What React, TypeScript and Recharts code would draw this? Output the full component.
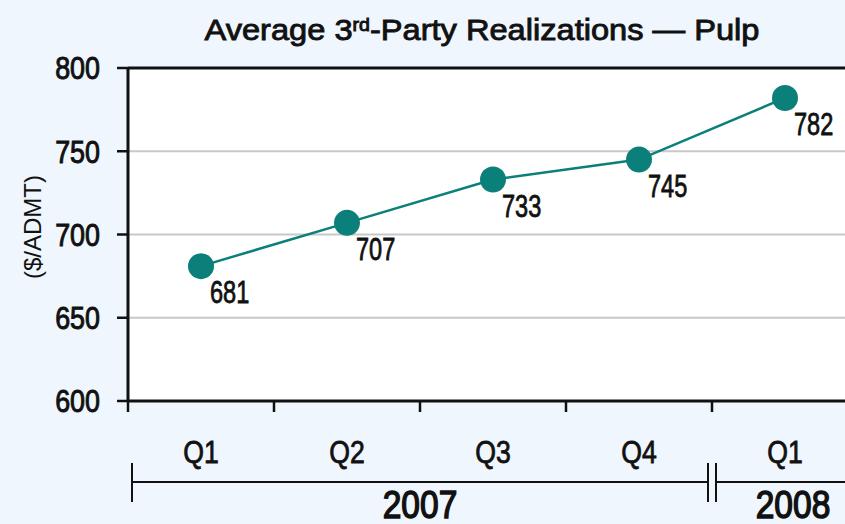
import React from 'react'
import { LineChart, Line, XAxis, YAxis, CartesianGrid, ReferenceLine, LabelList } from 'recharts'

const quarters = ['Q1', 'Q2', 'Q3', 'Q4', 'Q1']
const realizations = [681, 707, 733, 745, 782]
const yTicks = [600, 650, 700, 750, 800]
const yearLabels = ['2007', '2008']
const yearQuarterCounts = [4, 1]

// no condensed face installed, so Liberation Sans gets squeezed horizontally
const FONT = '"Liberation Sans", Arial, sans-serif'
const INK = '#111'
const TEAL = '#0B807B'
const BG = '#EFF6FD'

const CHART_W = 880
const CHART_H = 524
const PLOT_LEFT = 128
const PLOT_TOP = 68
const PLOT_RIGHT_MARGIN = 22
const PLOT_W = CHART_W - PLOT_LEFT - PLOT_RIGHT_MARGIN
const BAND = PLOT_W / quarters.length

const data = quarters.map((q, i) => ({ q, value: realizations[i] }))

function Narrow({ x, y, sx, anchor = 'start', dy, size, heavy = 0.8, children }: any) {
  return (
    <g transform={`translate(${x},${y}) scale(${sx},1)`}>
      <text
        x={0}
        y={0}
        dy={dy}
        textAnchor={anchor}
        fontFamily={FONT}
        fontSize={size}
        fill={INK}
        stroke={INK}
        strokeWidth={heavy}
      >
        {children}
      </text>
    </g>
  )
}

function YTick(props: any) {
  const { x, y, payload } = props
  return (
    <Narrow x={x} y={y} sx={0.84} anchor="end" dy="0.355em" size={32} heavy={1}>
      {payload.value}
    </Narrow>
  )
}

// quarter label plus the tick marks on the band edges
function QTick(props: any) {
  const { x, y, payload, index } = props
  const last = index === quarters.length - 1
  return (
    <g>
      <line x1={x - BAND / 2} x2={x - BAND / 2} y1={y} y2={y + 11} stroke={INK} strokeWidth={2.5} />
      {last && <line x1={x + BAND / 2} x2={x + BAND / 2} y1={y} y2={y + 11} stroke={INK} strokeWidth={2.5} />}
      <Narrow x={x} y={y + 40} sx={0.86} anchor="middle" dy="0.71em" size={31}>
        {payload.value}
      </Narrow>
    </g>
  )
}

function ValueLabel(props: any) {
  const { x, y, value } = props
  return (
    <Narrow x={x + 9} y={y + 37} sx={0.76} size={31}>
      {value}
    </Narrow>
  )
}

function Overlay() {
  let start = 0
  const segs = yearQuarterCounts.map((n, i) => {
    const s = { label: yearLabels[i], from: start, to: start + n }
    start += n
    return s
  })
  const px = (b: number) => PLOT_LEFT + b * BAND
  const lineY = 482
  return (
    <svg width={CHART_W} height={CHART_H} style={{ position: 'absolute', left: 0, top: 0, pointerEvents: 'none' }}>
      <text
        x={482}
        y={40}
        textAnchor="middle"
        fontFamily={FONT}
        fontSize={30}
        fill={INK}
        stroke={INK}
        strokeWidth={0.9}
        textLength={555}
        lengthAdjust="spacingAndGlyphs"
      >
        Average 3<tspan fontSize={18} dy={-9}>rd</tspan>
        <tspan dy={9}>-Party Realizations — Pulp</tspan>
      </text>
      <text
        transform="translate(41,227) rotate(-90)"
        textAnchor="middle"
        fontFamily={FONT}
        fontSize={24}
        fill={INK}
      >
        ($/ADMT)
      </text>
      {segs.map((s, i) => {
        const x1 = px(s.from) + 4
        const x2 = i === segs.length - 1 ? px(s.to) + 12 : px(s.to) - 4
        return (
          <g key={i}>
            <line x1={x1} x2={x2} y1={lineY} y2={lineY} stroke={INK} strokeWidth={2} />
            <line x1={x1} x2={x1} y1={463} y2={502} stroke={INK} strokeWidth={2} />
            {i < segs.length - 1 && <line x1={x2} x2={x2} y1={463} y2={502} stroke={INK} strokeWidth={2} />}
            <Narrow x={(x1 + x2) / 2} y={518} sx={0.86} anchor="middle" size={39} heavy={1.5}>
              {s.label}
            </Narrow>
          </g>
        )
      })}
    </svg>
  )
}

export default function App() {
  return (
    <div style={{ position: 'fixed', left: 0, top: 0, width: 845, height: 524, overflow: 'hidden', background: BG }}>
      <LineChart
        width={CHART_W}
        height={CHART_H}
        data={data}
        margin={{ top: PLOT_TOP, right: PLOT_RIGHT_MARGIN, left: 0, bottom: 0 }}
        style={{ position: 'absolute', left: 0, top: 0 }}
      >
        <CartesianGrid horizontal vertical={false} fill="#ffffff" stroke="#C8C8C8" strokeWidth={2} />
        <XAxis
          dataKey="q"
          padding={{ left: BAND / 2, right: BAND / 2 }}
          axisLine={{ stroke: INK, strokeWidth: 3 }}
          tickLine={false}
          tickSize={0}
          tickMargin={0}
          height={123}
          tick={<QTick />}
          interval={0}
        />
        <YAxis
          width={PLOT_LEFT}
          domain={[600, 800]}
          ticks={yTicks}
          tickSize={11}
          tickMargin={17}
          tickLine={{ stroke: INK, strokeWidth: 2.5 }}
          axisLine={{ stroke: INK, strokeWidth: 3 }}
          tick={<YTick />}
        />
        <ReferenceLine y={800} stroke={INK} strokeWidth={3} />
        <Line
          dataKey="value"
          stroke={TEAL}
          strokeWidth={2.5}
          dot={{ r: 13, fill: TEAL, stroke: TEAL, strokeWidth: 0 }}
          isAnimationActive={false}
        >
          <LabelList dataKey="value" content={<ValueLabel />} />
        </Line>
      </LineChart>
      <Overlay />
    </div>
  )
}
